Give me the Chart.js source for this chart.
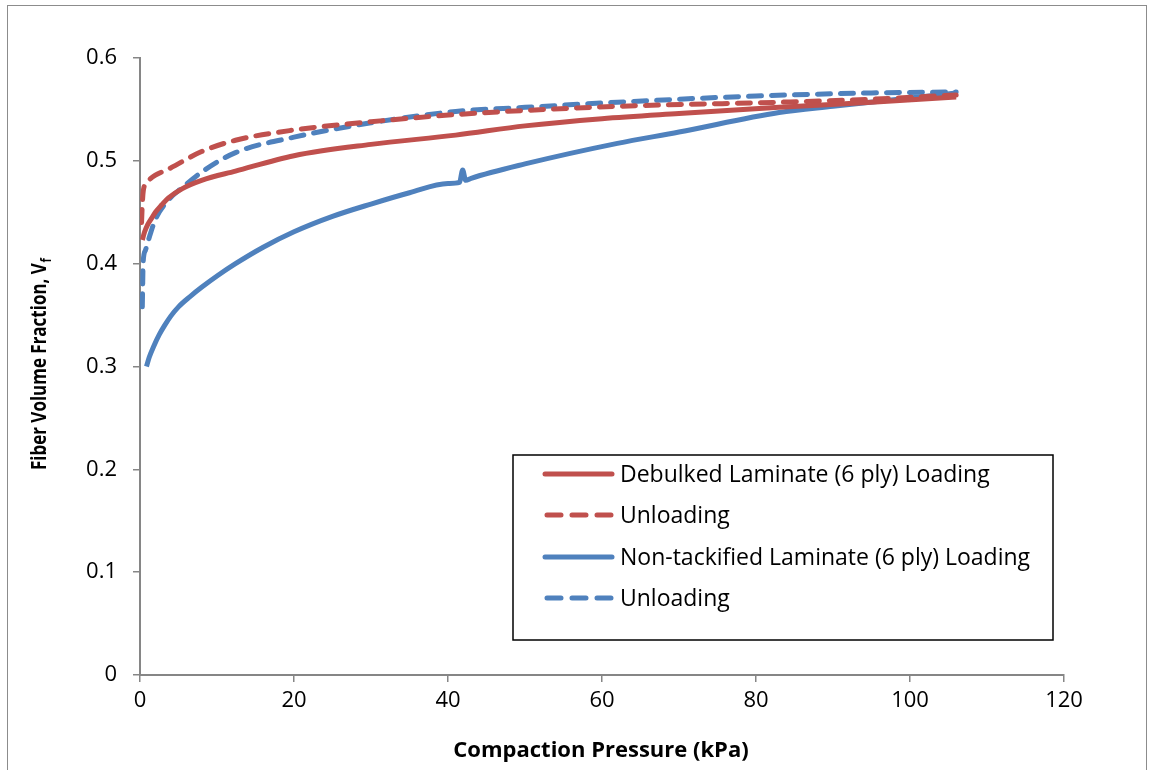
<!DOCTYPE html>
<html>
<head>
<meta charset="utf-8">
<script src="https://cdn.jsdelivr.net/npm/chart.js@4.4.1/dist/chart.umd.min.js"></script>
<style>
  html, body { margin: 0; padding: 0; background: #fff; }
  #wrap { position: relative; width: 1151px; height: 770px; overflow: hidden; }
  #frame { position: absolute; left: 7px; top: 5px; width: 1140px; height: 800px; border: 1.5px solid #8c8c8c; box-sizing: border-box; }
  canvas { position: absolute; left: 0; top: 0; }
</style>
</head>
<body>
<div id="wrap">
  <div id="frame"></div>
  <canvas id="chart" width="1151" height="770"></canvas>
</div>
<script>
// Debulked laminate, loading
const debulkedLoadX = [0.3, 0.6, 1, 1.5, 2, 2.8, 3.7, 5.5, 8, 12.4, 20, 30, 41, 50, 60, 70, 83, 95, 106];
const debulkedLoadY = [0.423, 0.431, 0.438, 0.444, 0.450, 0.457, 0.464, 0.473, 0.481, 0.490, 0.505, 0.516, 0.525, 0.534, 0.541, 0.546, 0.552, 0.557, 0.562];

// Debulked laminate, unloading
const debulkedUnloadX = [0.2, 0.3, 0.45, 1, 2, 3.7, 8, 12.4, 20, 30, 41, 50, 62, 83, 95, 106];
const debulkedUnloadY = [0.440, 0.458, 0.472, 0.480, 0.486, 0.492, 0.509, 0.520, 0.530, 0.538, 0.545, 0.549, 0.553, 0.557, 0.560, 0.564];

// Non-tackified laminate, loading
const nonTackLoadX = [0.84, 1.2, 1.8, 2.5, 3.2, 4, 5, 6.5, 8, 10, 12.4, 16, 20, 25, 30, 35, 40, 41.5, 41.9, 42.3, 43, 50, 62, 70, 83, 90, 100, 106];
const nonTackLoadY = [0.300, 0.309, 0.320, 0.331, 0.340, 0.349, 0.358, 0.368, 0.377, 0.388, 0.400, 0.416, 0.431, 0.446, 0.458, 0.469, 0.478, 0.479, 0.491, 0.481, 0.483, 0.497, 0.517, 0.528, 0.547, 0.553, 0.561, 0.566];

// Non-tackified laminate, unloading
const nonTackUnloadX = [0.3, 0.35, 0.4, 0.7, 1.1, 2, 3.7, 5.5, 8, 12.4, 20, 30, 41, 50, 62, 80, 95, 106];
const nonTackUnloadY = [0.358, 0.380, 0.400, 0.413, 0.423, 0.443, 0.462, 0.474, 0.489, 0.508, 0.523, 0.537, 0.548, 0.552, 0.557, 0.563, 0.566, 0.567];

const seriesLabels = ['Debulked Laminate (6 ply) Loading', 'Unloading', 'Non-tackified Laminate (6 ply) Loading', 'Unloading'];
const xTicks = [0, 20, 40, 60, 80, 100, 120];
const yTicks = [0, 0.1, 0.2, 0.3, 0.4, 0.5, 0.6];

const RED = '#C0504D';
const BLUE = '#4F81BD';
const AXIS = '#868686';
const FONT = '"Open Sans", Lato, sans-serif';

function pts(xs, ys) {
    return xs.map((x, i) => ({ x: x, y: ys[i] }));
}

function lineSet(label, xs, ys, color, dashed) {
    return {
        label: label,
        data: pts(xs, ys),
        showLine: true,
        borderColor: color,
        backgroundColor: color,
        borderWidth: 5,
        borderDash: dashed ? [13, 10] : [],
        borderCapStyle: dashed ? 'round' : 'butt',
        pointRadius: 0,
        cubicInterpolationMode: 'monotone',
        fill: false
    };
}

// legend box inside the plot, plus the axis titles (the y one has a subscript)
const extras = {
    id: 'extras',
    afterDraw(chart) {
        const ctx = chart.ctx;
        ctx.save();

        // legend
        const bx = 513, by = 455, bw = 540, bh = 185;
        ctx.fillStyle = '#fff';
        ctx.fillRect(bx, by, bw, bh);
        ctx.strokeStyle = '#000';
        ctx.lineWidth = 1.5;
        ctx.strokeRect(bx, by, bw, bh);
        const rows = [474, 515, 557, 598];
        chart.data.datasets.forEach((ds, i) => {
            const y = rows[i];
            const dashed = ds.borderDash.length > 0;
            ctx.beginPath();
            ctx.strokeStyle = ds.borderColor;
            ctx.lineWidth = 5;
            ctx.lineCap = 'round';
            ctx.setLineDash(dashed ? [14, 11] : []);
            ctx.moveTo(dashed ? 547 : 545, y);
            ctx.lineTo(dashed ? 611 : 612, y);
            ctx.stroke();
            ctx.setLineDash([]);
            ctx.fillStyle = '#000';
            ctx.font = '23px ' + FONT;
            ctx.textAlign = 'left';
            ctx.textBaseline = 'alphabetic';
            ctx.fillText(ds.label, 620, y + 8);
        });

        // x title
        ctx.fillStyle = '#000';
        ctx.font = 'bold 22px ' + FONT;
        ctx.textAlign = 'center';
        ctx.textBaseline = 'alphabetic';
        ctx.fillText('Compaction Pressure (kPa)', 601, 757);

        // y title, rotated, with subscript f, squeezed a little toward the reference length
        ctx.translate(46, 364);
        ctx.rotate(-Math.PI / 2);
        const main = 'Fiber Volume Fraction, V';
        ctx.font = 'bold 21px ' + FONT;
        const w1 = ctx.measureText(main).width;
        ctx.font = 'bold 14px ' + FONT;
        const w2 = ctx.measureText('f').width;
        const total = w1 + w2 + 1;
        const k = Math.min(1, 212 / total);
        ctx.scale(k, 1);
        const start = -total / 2;
        ctx.textAlign = 'left';
        ctx.font = 'bold 21px ' + FONT;
        ctx.fillText(main, start, 0);
        ctx.font = 'bold 14px ' + FONT;
        ctx.fillText('f', start + w1 + 1, 5);
        ctx.restore();
    }
};

const ctx = document.getElementById('chart').getContext('2d');
const chart = new Chart(ctx, {
    type: 'scatter',
    data: {
        datasets: [
            lineSet(seriesLabels[0], debulkedLoadX, debulkedLoadY, RED, false),
            lineSet(seriesLabels[1], debulkedUnloadX, debulkedUnloadY, RED, true),
            lineSet(seriesLabels[2], nonTackLoadX, nonTackLoadY, BLUE, false),
            lineSet(seriesLabels[3], nonTackUnloadX, nonTackUnloadY, BLUE, true)
        ]
    },
    options: {
        responsive: false,
        animation: false,
        layout: { padding: { top: 58, right: 87, left: 0, bottom: 0 } },
        plugins: {
            legend: { display: false },
            tooltip: { enabled: false }
        },
        scales: {
            x: {
                type: 'linear',
                min: 0,
                max: 120,
                afterFit(s) { s.height = 95; },
                afterBuildTicks(s) { s.ticks = xTicks.map(v => ({ value: v })); },
                border: { color: AXIS, width: 2 },
                grid: { drawOnChartArea: false, color: AXIS, tickLength: 7, lineWidth: 1.5 },
                ticks: { color: '#000', font: { family: FONT, size: 22 }, padding: 6, maxRotation: 0 }
            },
            y: {
                type: 'linear',
                min: 0,
                max: 0.6,
                afterFit(s) { s.width = 140; },
                afterBuildTicks(s) { s.ticks = yTicks.map(v => ({ value: v })); },
                border: { color: AXIS, width: 2 },
                grid: { drawOnChartArea: false, color: AXIS, tickLength: 7, lineWidth: 1.5 },
                ticks: {
                    color: '#000',
                    font: { family: FONT, size: 22 },
                    padding: 16,
                    callback: v => v === 0 ? '0' : v.toFixed(1)
                }
            }
        }
    },
    plugins: [extras]
});
</script>
</body>
</html>
